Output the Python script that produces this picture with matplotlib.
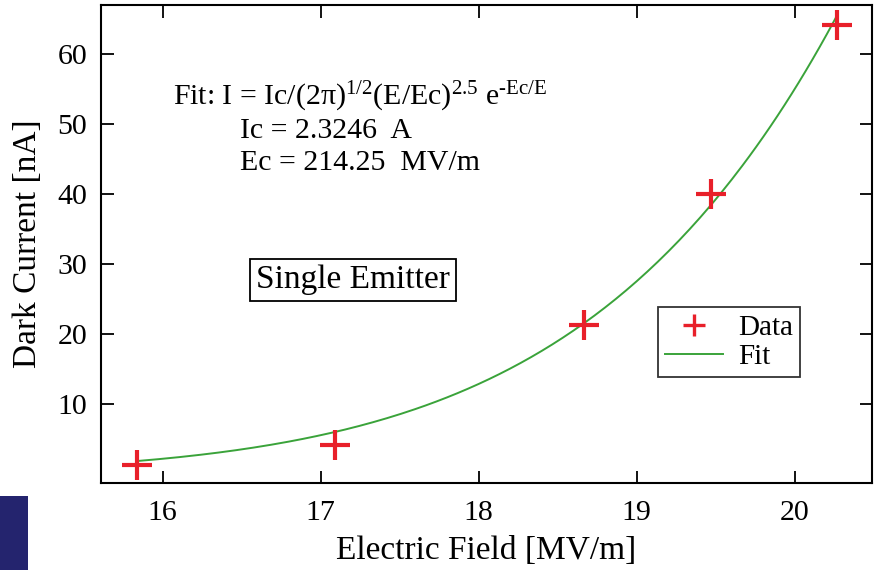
import numpy as np
import matplotlib
matplotlib.use("Agg")
import matplotlib.pyplot as plt
from matplotlib.patches import Rectangle

# DATA
field = [15.84, 17.09, 18.67, 19.47, 20.27]      # MV/m
current = [1.3, 4.1, 21.3, 40.0, 64.1]          # nA
# fit parameters as printed on the chart
Ic = 2.3246      # A
Ec = 214.25      # MV/m
xticks = [16, 17, 18, 19, 20]
yticks = [10, 20, 30, 40, 50, 60]

plt.rcParams['font.family'] = ['Liberation Serif', 'DejaVu Serif']
plt.rcParams['mathtext.fontset'] = 'custom'
plt.rcParams['mathtext.rm'] = 'Liberation Serif'
plt.rcParams['mathtext.it'] = 'Liberation Serif'
plt.rcParams['mathtext.default'] = 'regular'

fig = plt.figure(figsize=(8.85, 5.7), dpi=100)
ax = fig.add_axes([101/885, 1 - 483/570, 771/885, 478/570])

# fit curve from the printed parameters, between first and last data point
E = np.linspace(field[0], field[-1], 200)
I_fit = Ic / np.sqrt(2*np.pi) * (E/Ec)**2.5 * np.exp(-Ec/E) * 1e9

ax.plot(field, current, linestyle='none', marker='+', color='#e8202a',
        markersize=22, markeredgewidth=3.0, label='Data', zorder=3)
ax.plot(E, I_fit, color='#3aa33a', lw=1.4, label='Fit', zorder=2)

ax.set_xlim(15.61, 20.49)
ax.set_ylim(-1.3, 67)
ax.set_xticks(xticks)
ax.set_yticks(yticks)
ax.tick_params(direction='in', top=True, right=True, length=9, width=1.3,
               labelsize=21.5, pad=10)
ax.tick_params(axis='x', pad=12)
for s in ax.spines.values():
    s.set_linewidth(1.5)

ax.set_xlabel('Electric Field [MV/m]', fontsize=24, labelpad=7)
ax.set_ylabel('Dark Current [nA]', fontsize=24, labelpad=10)

# annotation text
ax.text(0.093, 0.79, r'Fit: I = Ic/(2π)$^{1/2}$(E/Ec)$^{2.5}$ e$^{\text{-Ec/E}}$',
        transform=ax.transAxes, fontsize=21.5)
ax.text(0.18, 0.722, 'Ic = 2.3246  A', transform=ax.transAxes, fontsize=21.5)
ax.text(0.18, 0.655, 'Ec = 214.25  MV/m', transform=ax.transAxes, fontsize=21.5)
ax.text(0.327, 0.425, 'Single Emitter', transform=ax.transAxes, fontsize=24,
        ha='center', va='center',
        bbox=dict(boxstyle='square,pad=0.18', fc='white', ec='black', lw=1.3))

leg = ax.legend(loc='upper left', bbox_to_anchor=(0.722, 0.368), borderaxespad=0,
                fontsize=21, frameon=True, fancybox=False, edgecolor='black',
                handlelength=2.0, handletextpad=0.5, borderpad=0.25, labelspacing=0.1)
leg.get_frame().set_linewidth(1.3)
for h in leg.legend_handles:
    if h.get_label() == 'Data':
        h.set_markersize(16)
        h.set_markeredgewidth(2.4)

# dark blue strip at the lower left (cropped from the slide)
fig.patches.append(Rectangle((0, 0), 28/885, 74/570, transform=fig.transFigure,
                             facecolor='#24246e', edgecolor='none'))

fig.savefig('out.png', dpi=100)
